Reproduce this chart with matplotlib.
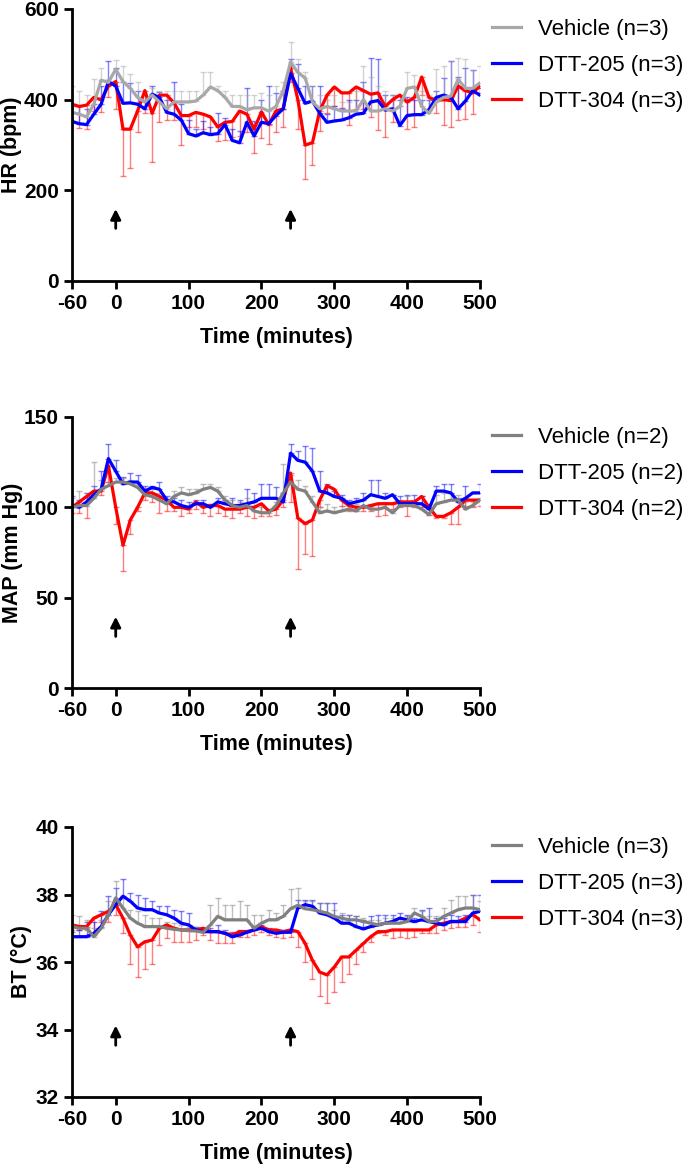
import numpy as np
import matplotlib
matplotlib.use("Agg")
import matplotlib.pyplot as plt

plt.rcParams['font.family'] = ['Liberation Sans', 'DejaVu Sans']
plt.rcParams['axes.unicode_minus'] = False

# Час (хвилини)
time = list(range(-60, 510, 10))

# ---------- HR (bpm) ----------
hr_veh = [372, 368, 362, 390, 443, 438,
          467, 440, 425, 405, 395, 410,
          395, 380, 395, 395, 395,
          397, 410, 428, 420, 405,
          385, 385, 378, 382, 382,
          375, 385, 420, 483, 460,
          448, 395, 380, 385, 380,
          375, 375, 375, 400, 375,
          375, 380, 375, 385, 425,
          428, 385, 370, 395, 405,
          408, 445, 425, 425, 437]
hr_veh_top = [430, 420, 410, 445, 470, 445,
              487, 475, 457, 440, 420, 425,
              420, 420, 420, 420, 420,
              420, 462, 462, 430, 420,
              410, 410, 410, 410, 415,
              410, 430, 440, 527, 490,
              462, 430, 410, 400, 410,
              395, 395, 420, 475, 450,
              430, 420, 410, 410, 460,
              455, 420, 410, 468, 475,
              485, 492, 490, 465, 475]
hr_205 = [352, 347, 345, 368, 390, 440,
          430, 392, 393, 390, 380, 412,
          405, 372, 368, 355, 325,
          320, 327, 323, 325, 345,
          310, 305, 350, 320, 350,
          347, 365, 380, 458, 425,
          392, 397, 370, 350, 353,
          355, 360, 368, 370, 395,
          398, 377, 380, 343, 365,
          367, 367, 378, 405, 410,
          405, 380, 397, 420, 410]
hr_205_top = [385, 385, 380, 390, 430, 485,
              470, 440, 437, 420, 400, 430,
              417, 400, 440, 390, 355,
              335, 353, 340, 370, 360,
              335, 330, 425, 352, 400,
              430, 415, 420, 490, 478,
              430, 430, 430, 368, 385,
              382, 400, 400, 440, 493,
              490, 410, 410, 400, 405,
              400, 400, 400, 420, 447,
              485, 450, 470, 465, 425]
hr_304 = [390, 385, 388, 405, 400, 430,
          440, 335, 335, 375, 420, 370,
          410, 410, 393, 365, 365,
          372, 368, 362, 340, 350,
          352, 375, 368, 335, 373,
          345, 375, 380, 470, 400,
          300, 305, 375, 410, 428,
          415, 415, 428, 420, 412,
          415, 385, 400, 410, 395,
          405, 450, 405, 398, 400,
          398, 430, 420, 415, 430]
hr_304_low = [350, 338, 335, 375, 372, 405,
              380, 232, 250, 328, 370, 262,
              350, 355, 355, 300, 340,
              340, 335, 325, 308, 312,
              318, 320, 328, 282, 315,
              302, 328, 340, 440, 335,
              225, 255, 330, 370, 385,
              380, 345, 380, 380, 362,
              332, 318, 350, 385, 335,
              340, 410, 380, 370, 345,
              340, 355, 358, 368, 415]

# ---------- MAP (mm Hg) ----------
map_veh = [100, 101, 101, 105, 110, 112,
           114, 114, 113, 111, 107, 106,
           104, 102, 106, 108, 107,
           108, 110, 111, 109, 104,
           101, 100, 101, 98, 97,
           97, 101, 108, 114, 110,
           109, 103, 97, 98, 97,
           98, 99, 98, 101, 99,
           99, 100, 97, 101, 101,
           101, 99, 96, 102, 103,
           104, 104, 99, 101, 104]
map_veh_top = [105, 109, 108, 125, 115, 114,
               116, 116, 115, 113, 110, 110,
               108, 104, 109, 111, 110,
               110, 113, 113, 111, 106,
               104, 103, 105, 103, 100,
               99, 103, 124, 118, 115,
               112, 106, 100, 102, 100,
               101, 103, 102, 104, 102,
               102, 103, 99, 104, 106,
               104, 102, 99, 107, 108,
               108, 107, 103, 103, 105]
map_205 = [101, 100, 103, 107, 110, 127,
           120, 113, 114, 114, 109, 111,
           110, 104, 103, 101, 100,
           102, 102, 100, 103, 102,
           101, 101, 102, 103, 105,
           105, 105, 103, 130, 126,
           125, 120, 109, 108, 106,
           105, 102, 103, 104, 107,
           106, 105, 107, 102, 102,
           102, 102, 99, 109, 109,
           108, 103, 105, 108, 108]
map_205_top = [106, 104, 108, 112, 120, 135,
               126, 117, 119, 118, 112, 112,
               114, 106, 105, 104, 103,
               104, 104, 102, 105, 104,
               105, 104, 110, 108, 113,
               113, 111, 108, 135, 131,
               134, 133, 120, 113, 109,
               107, 104, 105, 108, 115,
               115, 108, 107, 106, 107,
               107, 106, 102, 112, 113,
               113, 105, 112, 108, 113]
map_304 = [100, 103, 106, 109, 109, 123,
           100, 79, 93, 100, 108, 108,
           106, 104, 100, 100, 99,
           103, 100, 101, 101, 99,
           99, 99, 100, 100, 102,
           98, 99, 104, 119, 94,
           91, 93, 104, 112, 110,
           104, 101, 100, 100, 101,
           102, 102, 102, 103, 103,
           103, 106, 100, 95, 95,
           97, 100, 104, 104, 104]
map_304_low = [97, 97, 94, 107, 107, 114,
               91, 65, 85, 98, 104, 103,
               97, 98, 98, 95, 97,
               99, 97, 95, 97, 95,
               94, 97, 95, 94, 95,
               95, 96, 100, 103, 66,
               74, 73, 100, 108, 106,
               101, 98, 98, 98, 98,
               95, 96, 99, 100, 95,
               100, 100, 96, 94, 94,
               91, 91, 101, 100, 101]

# ---------- BT (°C) ----------
bt_veh = [37.05, 37.0, 37.0, 36.75, 37.0, 37.4,
          37.9, 37.6, 37.3, 37.15, 37.05, 37.05,
          37.05, 37.0, 36.97, 36.95, 36.93,
          36.92, 36.88, 37.1, 37.35, 37.25,
          37.25, 37.25, 37.25, 37.0, 37.15,
          37.25, 37.25, 37.35, 37.58, 37.68,
          37.58, 37.55, 37.5, 37.45, 37.35,
          37.3, 37.25, 37.25, 37.2, 37.15,
          37.1, 37.15, 37.15, 37.15, 37.2,
          37.45, 37.35, 37.2, 37.2, 37.35,
          37.45, 37.55, 37.6, 37.6, 37.55]
bt_veh_top = [37.4, 37.35, 37.25, 37.0, 37.25, 37.8,
              38.4, 37.9, 37.55, 37.5, 37.4, 37.3,
              37.3, 37.2, 37.15, 37.1, 37.05,
              37.05, 37.05, 37.7, 37.9, 37.7,
              37.7, 37.8, 37.7, 37.4, 37.4,
              37.55, 37.45, 37.7, 38.15, 38.2,
              37.8, 37.8, 37.75, 37.75, 37.55,
              37.45, 37.4, 37.35, 37.3, 37.25,
              37.25, 37.3, 37.3, 37.3, 37.35,
              37.6, 37.5, 37.35, 37.35, 37.6,
              37.85, 37.95, 37.95, 38.0, 37.8]
bt_205 = [36.75, 36.75, 36.75, 36.85, 37.05, 37.4,
          37.7, 37.95, 37.8, 37.6, 37.55, 37.55,
          37.45, 37.4, 37.3, 37.15, 37.1,
          36.95, 36.9, 36.9, 36.9, 36.85,
          36.75, 36.8, 36.88, 36.95, 37.0,
          36.9, 36.85, 36.88, 36.88, 37.6,
          37.7, 37.65, 37.45, 37.4, 37.3,
          37.15, 37.15, 37.05, 36.98, 37.05,
          37.1, 37.15, 37.2, 37.3, 37.25,
          37.2, 37.25, 37.2, 37.15, 37.1,
          37.2, 37.2, 37.2, 37.45, 37.5]
bt_205_top = [36.9, 36.95, 37.2, 37.2, 37.5, 37.95,
              38.2, 38.45, 38.05, 38.0, 37.9, 37.8,
              37.65, 37.65, 37.55, 37.5, 37.45,
              37.05, 37.0, 37.0, 37.1, 36.95,
              36.9, 36.95, 36.95, 37.05, 37.1,
              37.0, 36.95, 36.95, 36.95, 37.85,
              37.85, 37.85, 37.75, 37.75, 37.75,
              37.4, 37.4, 37.35, 37.25, 37.35,
              37.4, 37.4, 37.4, 37.45, 37.4,
              37.3, 37.55, 37.6, 37.3, 37.3,
              37.4, 37.35, 37.4, 38.0, 38.0]
bt_304 = [37.1, 37.05, 37.05, 37.3, 37.4, 37.5,
          37.7, 37.3, 36.8, 36.45, 36.6, 36.65,
          37.0, 37.1, 37.0, 36.95, 36.95,
          36.95, 37.0, 36.9, 36.9, 36.85,
          36.8, 36.9, 36.9, 36.95, 37.05,
          36.95, 36.95, 36.9, 36.95, 36.9,
          36.55, 36.05, 35.7, 35.62, 35.85,
          36.15, 36.15, 36.35, 36.55, 36.75,
          36.9, 36.9, 36.95, 36.95, 36.95,
          36.95, 36.95, 36.95, 37.1, 37.15,
          37.2, 37.2, 37.3, 37.4, 37.25]
bt_304_low = [36.95, 36.95, 36.95, 36.8, 37.2, 37.2,
              37.4, 36.85, 35.95, 35.55, 35.8, 35.95,
              36.5, 36.7, 36.6, 36.6, 36.6,
              36.65, 36.8, 36.65, 36.55, 36.55,
              36.55, 36.75, 36.75, 36.8, 36.9,
              36.8, 36.75, 36.7, 36.75, 36.45,
              36.0, 35.5, 35.0, 34.8, 35.1,
              35.4, 35.65, 35.95, 36.3, 36.6,
              36.85, 36.8, 36.7, 36.75, 36.7,
              36.75, 36.85, 36.85, 36.85, 36.95,
              37.0, 37.05, 37.05, 37.1, 36.9]

panels = [
    dict(veh=hr_veh, veh_top=hr_veh_top, d205=hr_205, d205_top=hr_205_top,
         d304=hr_304, d304_low=hr_304_low, n=3, veh_color="#a8a8a8",
         ylabel="HR (bpm)", ylim=(0, 600), yticks=[0, 200, 400, 600],
         arrow=(110, 165), ylab_x=-0.122),
    dict(veh=map_veh, veh_top=map_veh_top, d205=map_205, d205_top=map_205_top,
         d304=map_304, d304_low=map_304_low, n=2, veh_color="#808080",
         ylabel="MAP (mm Hg)", ylim=(0, 150), yticks=[0, 50, 100, 150],
         arrow=(27, 41), ylab_x=-0.12),
    dict(veh=bt_veh, veh_top=bt_veh_top, d205=bt_205, d205_top=bt_205_top,
         d304=bt_304, d304_low=bt_304_low, n=3, veh_color="#808080",
         ylabel="BT (°C)", ylim=(32, 40), yticks=[32, 34, 36, 38, 40],
         arrow=(33.45, 34.2), ylab_x=-0.097),
]

# Положення осей у пікселях (верх, низ)
W, H = 685, 1166
boxes = [(9, 281), (417, 688), (827, 1097)]

fig = plt.figure(figsize=(W / 100, H / 100), dpi=100)
t = np.array(time)

for p, (top, bot) in zip(panels, boxes):
    ax = fig.add_axes([72 / W, 1 - bot / H, 408 / W, (bot - top) / H])

    veh = np.array(p["veh"])
    d205 = np.array(p["d205"])
    d304 = np.array(p["d304"])
    ekw = dict(fmt="none", elinewidth=1, capsize=2.5, capthick=1, alpha=0.5)

    ax.errorbar(t, d304, yerr=[d304 - np.array(p["d304_low"]), np.zeros_like(d304)],
                ecolor="#ff0000", **ekw)
    ax.errorbar(t, d205, yerr=[np.zeros_like(d205), np.array(p["d205_top"]) - d205],
                ecolor="#0000ff", **ekw)
    ax.errorbar(t, veh, yerr=[np.zeros_like(veh), np.array(p["veh_top"]) - veh],
                ecolor=p["veh_color"], **ekw)

    l304, = ax.plot(t, d304, color="#ff0000", lw=2.3)
    l205, = ax.plot(t, d205, color="#0000ff", lw=2.3)
    lveh, = ax.plot(t, veh, color=p["veh_color"], lw=2.3)

    # Стрілки (моменти введення)
    for xa in [0, 240]:
        ax.annotate("", xy=(xa, p["arrow"][1]), xytext=(xa, p["arrow"][0]),
                    arrowprops=dict(arrowstyle="-|>,head_width=0.3,head_length=0.6",
                                    color="black", lw=2))

    ax.set_xlim(-60, 500)
    ax.set_ylim(*p["ylim"])
    ax.set_xticks([-60, 0, 100, 200, 300, 400, 500])
    ax.set_yticks(p["yticks"])
    ax.spines["top"].set_visible(False)
    ax.spines["right"].set_visible(False)
    ax.spines["left"].set_linewidth(2)
    ax.spines["bottom"].set_linewidth(2)
    ax.tick_params(width=2, length=6, labelsize=15)
    for lab in ax.get_xticklabels() + ax.get_yticklabels():
        lab.set_fontweight("bold")
    ax.set_xlabel("Time (minutes)", fontsize=15.5, fontweight="bold", labelpad=10)
    ax.set_ylabel(p["ylabel"], fontsize=15.5, fontweight="bold")
    ax.yaxis.set_label_coords(p["ylab_x"], 0.5)

    n = p["n"]
    ax.legend([lveh, l205, l304],
              [f"Vehicle (n={n})", f"DTT-205 (n={n})", f"DTT-304 (n={n})"],
              loc="upper left", bbox_to_anchor=(1.03, 0.964), frameon=False,
              fontsize=16, handlelength=1.3, handletextpad=0.75,
              labelspacing=0.685, borderaxespad=0, borderpad=0)

fig.savefig("out.png", dpi=100)
